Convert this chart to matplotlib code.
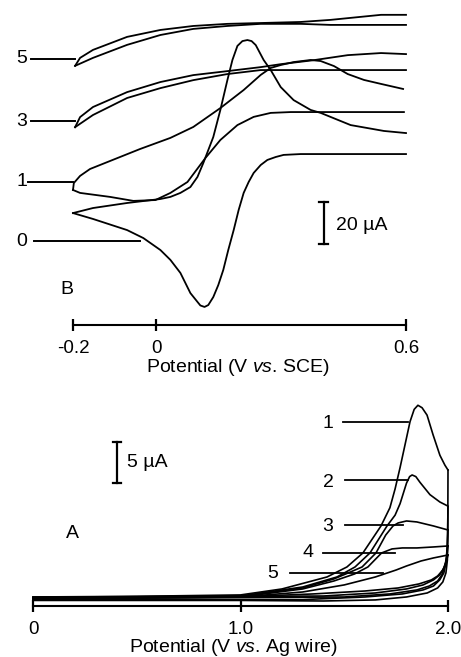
import numpy as np
import matplotlib
matplotlib.use("Agg")
import matplotlib.pyplot as plt

plt.rcParams['font.family'] = ['Liberation Sans', 'DejaVu Sans']
plt.rcParams['mathtext.fontset'] = 'custom'
plt.rcParams['mathtext.rm'] = 'Liberation Sans'
plt.rcParams['mathtext.it'] = 'Liberation Sans:italic'

# ---------------- Panel B data (V vs. SCE, current in uA, relative to own baseline)
b_offsets = {'0': 0.0, '1': 28.1, '3': 57.1, '5': 86.7}

b0_fwd_v = [-0.2, -0.152, -0.070, 0.010, 0.034, 0.058, 0.082, 0.099, 0.113, 0.125, 0.137,
            0.154, 0.171, 0.183, 0.195, 0.207, 0.219, 0.229, 0.239, 0.258, 0.275, 0.299,
            0.330, 0.371, 0.395, 0.467, 0.547, 0.6]
b0_fwd_i = [13.3, 15.7, 18.1, 20.0, 21.0, 22.9, 25.7, 30.5, 37.1, 43.3, 49.5,
            62.4, 76.7, 86.2, 92.9, 95.2, 95.7, 95.2, 93.3, 86.2, 81.4, 73.3,
            67.1, 62.4, 61.0, 55.2, 52.4, 51.4]
b0_rev_v = [-0.2, -0.152, -0.070, -0.031, 0.010, 0.034, 0.058, 0.082, 0.099, 0.106, 0.116,
            0.125, 0.137, 0.149, 0.161, 0.173, 0.186, 0.198, 0.210, 0.222, 0.234, 0.251,
            0.267, 0.287, 0.306, 0.347, 0.395, 0.6]
b0_rev_i = [13.3, 10.5, 5.2, 1.4, -4.3, -9.0, -15.2, -24.8, -29.0, -30.7, -31.4,
            -30.5, -26.7, -21.0, -13.8, -4.3, 5.2, 14.8, 22.9, 28.1, 32.4, 36.2,
            38.6, 40.0, 41.0, 41.4, 41.4, 41.4]

b1_fwd_v = [-0.2, -0.198, -0.183, -0.159, -0.111, -0.039, 0.034, 0.089, 0.154, 0.210,
            0.251, 0.275, 0.299, 0.330, 0.371, 0.395, 0.427, 0.460, 0.499, 0.540, 0.593]
b1_fwd_i = [-3.8, -0.5, 2.9, 6.2, 10.0, 15.7, 21.0, 26.2, 35.2, 43.8,
            51.0, 54.3, 55.7, 57.1, 58.1, 57.6, 55.2, 51.4, 48.6, 46.7, 44.3]
b1_rev_v = [-0.2, -0.183, -0.111, -0.055, -0.002, 0.034, 0.075, 0.118, 0.154, 0.195,
            0.234, 0.275, 0.323, 0.395, 0.595]
b1_rev_i = [-3.8, -5.2, -7.1, -9.0, -8.6, -5.2, 0.0, 11.4, 20.0, 27.1,
            31.0, 32.9, 33.3, 33.3, 33.3]

b3_fwd_v = [-0.195, -0.183, -0.152, -0.070, 0.010, 0.089, 0.171, 0.251, 0.299, 0.378, 0.460, 0.540, 0.600]
b3_fwd_i = [-2.9, 1.9, 6.7, 13.8, 18.6, 21.9, 23.8, 25.7, 27.1, 29.0, 31.4, 32.4, 31.9]
b3_rev_v = [-0.195, -0.152, -0.070, 0.010, 0.089, 0.171, 0.251, 0.347, 0.600]
b3_rev_i = [-2.9, 2.9, 11.0, 15.7, 19.5, 22.4, 24.3, 24.3, 24.3]

b5_fwd_v = [-0.195, -0.183, -0.152, -0.070, 0.010, 0.089, 0.171, 0.251, 0.347, 0.419, 0.540, 0.600]
b5_fwd_i = [-3.3, 0.5, 4.3, 10.5, 13.8, 15.7, 16.7, 17.1, 17.6, 18.6, 21.0, 21.0]
b5_rev_v = [-0.195, -0.152, -0.070, 0.010, 0.089, 0.171, 0.251, 0.347, 0.419, 0.600]
b5_rev_i = [-3.3, 0.5, 6.7, 11.4, 14.3, 15.7, 16.7, 16.7, 16.2, 16.2]

b_ticks = [-0.2, 0, 0.6]
b_ticklabels = ['-0.2', '0', '0.6']

# ---------------- Panel A data (V vs. Ag wire, current in uA)
a1_fwd_v = [0.0, 0.5, 1.0, 1.2, 1.417, 1.513, 1.59, 1.677, 1.72, 1.745, 1.769, 1.793, 1.817,
            1.837, 1.855, 1.875, 1.899, 1.928, 1.961, 1.985, 2.0]
a1_fwd_i = [0.12, 0.2, 0.37, 1.1, 2.56, 3.78, 5.49, 8.78, 11.0, 13.3, 15.9, 18.7, 21.5,
            23.0, 23.5, 23.2, 22.3, 19.9, 17.4, 16.2, 15.6]
a2_fwd_v = [0.0, 0.5, 1.0, 1.3, 1.465, 1.552, 1.624, 1.706, 1.745, 1.769, 1.80, 1.815,
            1.827, 1.845, 1.865, 1.913, 1.961, 2.0]
a2_fwd_i = [0.06, 0.15, 0.24, 1.34, 2.56, 3.78, 5.49, 8.78, 10.1, 11.5, 14.0, 14.8,
            15.0, 14.8, 14.1, 12.6, 11.7, 11.2]
a3_fwd_v = [0.0, 0.5, 1.0, 1.3, 1.45, 1.53, 1.586, 1.653, 1.70, 1.735, 1.76, 1.80,
            1.85, 1.93, 2.0]
a3_fwd_i = [0.0, 0.1, 0.2, 1.22, 2.32, 3.17, 3.78, 5.49, 7.68, 8.78, 9.15, 9.39,
            9.27, 8.78, 8.29]
a4_fwd_v = [0.0, 0.5, 1.0, 1.3, 1.45, 1.55, 1.614, 1.68, 1.73, 1.78, 1.85, 1.93, 2.0]
a4_fwd_i = [-0.06, 0.05, 0.12, 1.1, 2.07, 2.93, 3.78, 5.49, 5.98, 6.1, 6.1, 6.22, 6.34]
a5_fwd_v = [0.0, 0.5, 1.0, 1.3, 1.5, 1.65, 1.75, 1.80, 1.87, 1.93, 2.0]
a5_fwd_i = [-0.12, 0.0, 0.12, 0.73, 1.59, 2.56, 3.41, 3.9, 4.51, 4.88, 5.24]

a1_rev_v = [2.0, 1.999, 1.997, 1.99, 1.975, 1.95, 1.90, 1.80, 1.65, 1.4, 1.0, 0.5, 0.0]
a1_rev_i = [15.61, 8.29, 4.63, 3.05, 1.95, 1.22, 0.61, 0.12, -0.24, -0.37, -0.3, -0.3, -0.3]
a2_rev_v = [2.0, 1.997, 1.99, 1.98, 1.96, 1.93, 1.88, 1.78, 1.6, 1.3, 0.0]
a2_rev_i = [11.1, 6.46, 4.27, 3.05, 2.2, 1.46, 0.98, 0.49, 0.12, -0.2, -0.2]
a3_rev_v = [2.0, 1.995, 1.985, 1.97, 1.95, 1.91, 1.85, 1.72, 1.5, 0.0]
a3_rev_i = [8.29, 5.24, 3.9, 2.8, 2.07, 1.46, 0.98, 0.49, 0.12, -0.1]
a4_rev_v = [2.0, 1.993, 1.98, 1.96, 1.93, 1.88, 1.80, 1.65, 1.4, 0.0]
a4_rev_i = [6.34, 4.63, 3.66, 2.8, 2.2, 1.59, 1.1, 0.61, 0.24, 0.05]
a5_rev_v = [2.0, 1.99, 1.975, 1.95, 1.92, 1.86, 1.76, 1.6, 1.35, 1.1, 0.0]
a5_rev_i = [5.24, 4.27, 3.41, 2.68, 2.2, 1.71, 1.22, 0.85, 0.49, 0.24, 0.1]

a_ticks = [0, 1.0, 2.0]
a_ticklabels = ['0', '1.0', '2.0']

W, H = 461, 657
fig = plt.figure(figsize=(W / 100, H / 100), dpi=100)
lw = 1.3
fs = 14


def bare(ax):
    for s in ['left', 'right', 'top']:
        ax.spines[s].set_visible(False)
    ax.spines['bottom'].set_linewidth(1.5)
    ax.set_yticks([])
    ax.tick_params(axis='x', direction='inout', length=9, width=1.6, labelsize=13.5, pad=6)


# ---- Panel B
axB = fig.add_axes([73 / W, (H - 325) / H, 333 / W, 152 * 2.1 / H])
axB.set_xlim(-0.2, 0.6)
axB.set_ylim(-40, 112)
bare(axB)
axB.set_xticks(b_ticks, b_ticklabels)

for v, i, k in [(b0_fwd_v, b0_fwd_i, '0'), (b0_rev_v, b0_rev_i, '0'),
                (b1_fwd_v, b1_fwd_i, '1'), (b1_rev_v, b1_rev_i, '1'),
                (b3_fwd_v, b3_fwd_i, '3'), (b3_rev_v, b3_rev_i, '3'),
                (b5_fwd_v, b5_fwd_i, '5'), (b5_rev_v, b5_rev_i, '5')]:
    axB.plot(v, np.array(i) + b_offsets[k], color='black', lw=lw, clip_on=False,
             solid_joinstyle='round')

# leader lines and trace labels
for k, x0, x1 in [('5', -0.301, -0.195), ('3', -0.301, -0.195), ('1', -0.308, -0.2), ('0', -0.294, -0.039)]:
    y = b_offsets[k]
    axB.plot([x0, x1], [y, y], color='black', lw=1.4, clip_on=False)
    axB.text(-0.323, y, k, ha='center', va='center', fontsize=fs)

# scale bar 20 uA
axB.plot([0.402, 0.402], [-1.5, 18.5], color='black', lw=1.6, clip_on=False)
for yy in [-1.5, 18.5]:
    axB.plot([0.391, 0.413], [yy, yy], color='black', lw=1.6, clip_on=False)
axB.text(0.432, 7.6, '20 µA', ha='left', va='center', fontsize=fs)
axB.text(-0.214, -22.9, 'B', ha='center', va='center', fontsize=fs)
fig.text(238 / W, 1 - 368 / H, 'Potential (V $\\it{vs}$. SCE)', ha='center', va='center', fontsize=fs)

# ---- Panel A
axA = fig.add_axes([33 / W, (H - 606) / H, 415 / W, (24.76 + 0.98) * 8.2 / H])
axA.set_xlim(0, 2.0)
axA.set_ylim(-0.98, 24.76)
bare(axA)
axA.set_xticks(a_ticks, a_ticklabels)

for v, i in [(a1_fwd_v, a1_fwd_i), (a2_fwd_v, a2_fwd_i), (a3_fwd_v, a3_fwd_i),
             (a4_fwd_v, a4_fwd_i), (a5_fwd_v, a5_fwd_i),
             (a1_rev_v, a1_rev_i), (a2_rev_v, a2_rev_i), (a3_rev_v, a3_rev_i),
             (a4_rev_v, a4_rev_i), (a5_rev_v, a5_rev_i)]:
    axA.plot(v, i, color='black', lw=1.2, clip_on=False, solid_joinstyle='round')

for lab, tx, ty, x0, x1, ly in [('1', 1.422, 21.3, 1.494, 1.807, 21.5),
                                ('2', 1.422, 14.1, 1.504, 1.807, 14.4),
                                ('3', 1.422, 8.7, 1.504, 1.783, 8.9),
                                ('4', 1.325, 5.5, 1.398, 1.745, 5.5),
                                ('5', 1.157, 3.0, 1.239, 1.687, 3.0)]:
    axA.plot([x0, x1], [ly, ly], color='black', lw=1.3, clip_on=False)
    axA.text(tx, ty, lab, ha='center', va='center', fontsize=fs)

# scale bar 5 uA
axA.plot([0.405, 0.405], [14.0, 19.0], color='black', lw=1.6, clip_on=False)
for yy in [14.0, 19.0]:
    axA.plot([0.384, 0.426], [yy, yy], color='black', lw=1.6, clip_on=False)
axA.text(0.455, 16.5, '5 µA', ha='left', va='center', fontsize=fs)
axA.text(0.188, 7.9, 'A', ha='center', va='center', fontsize=fs)
fig.text(233 / W, 1 - 647 / H, 'Potential (V $\\it{vs}$. Ag wire)', ha='center', va='center', fontsize=fs)

fig.savefig('out.png', dpi=100)
